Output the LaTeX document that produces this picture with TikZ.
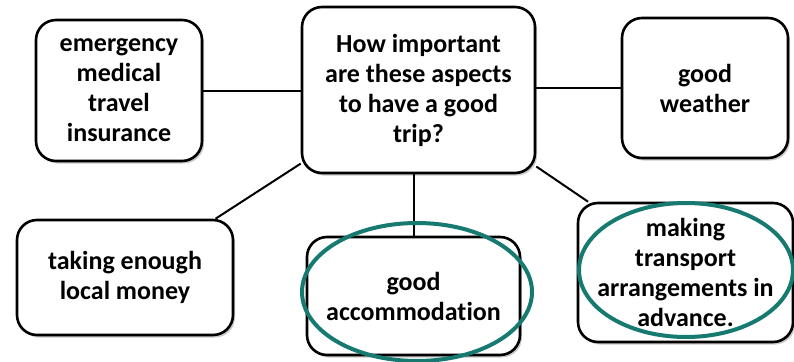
\documentclass[tikz,border=0pt]{standalone}
\usepackage{fontspec}
\setmainfont{Carlito}[Ligatures={NoCommon}]
\usetikzlibrary{shadows}
\definecolor{teal1}{RGB}{22,122,112}
\tikzset{
  box/.style={draw=black, line width=2.6pt, rounded corners=20pt, fill=white,
    align=center, font=\bfseries\fontsize{26}{30}\selectfont,
    inner sep=0pt, drop shadow={shadow xshift=2pt, shadow yshift=-2.5pt, fill=black!35, opacity=0.6}},
  conn/.style={draw=black, line width=2pt},
  highlight/.style={draw=teal1, line width=4pt}
}
\begin{document}
\begin{tikzpicture}[x=1pt,y=-1pt]
\useasboundingbox (0,0) rectangle (794,361);
\node[box, minimum width=166pt, minimum height=141pt] (emerg) at (119,90.5) {emergency\\medical\\travel\\insurance};
\node[box, minimum width=233pt, minimum height=166pt] (center) at (418.5,90) {How important\\are these aspects\\to have a good\\trip?};
\node[box, minimum width=166pt, minimum height=140pt] (weather) at (705,88) {good\\weather};
\node[box, minimum width=216pt, minimum height=115pt] (money) at (125,277.5) {taking enough\\local money};
\node[box, minimum width=213pt, minimum height=118pt] (accom) at (413.5,296) {good\\accommodation};
\node[box, minimum width=215pt, minimum height=139pt] (transport) at (685.5,272.5) {making\\transport\\arrangements in\\advance.};
\draw[conn] (emerg.east) -- (emerg.east -| center.west);
\draw[conn] (weather.west) -- (weather.west -| center.east);
\draw[conn] (center.212) -- (money.33);
\draw[conn] (accom.north) -- (accom.north |- center.south);
\draw[conn] (center.-33.8) -- (transport.144.4);
\draw[highlight] (417,292) ellipse (115pt and 69pt);
\draw[highlight] (686,270) ellipse (107pt and 67pt);
\end{tikzpicture}
\end{document}
